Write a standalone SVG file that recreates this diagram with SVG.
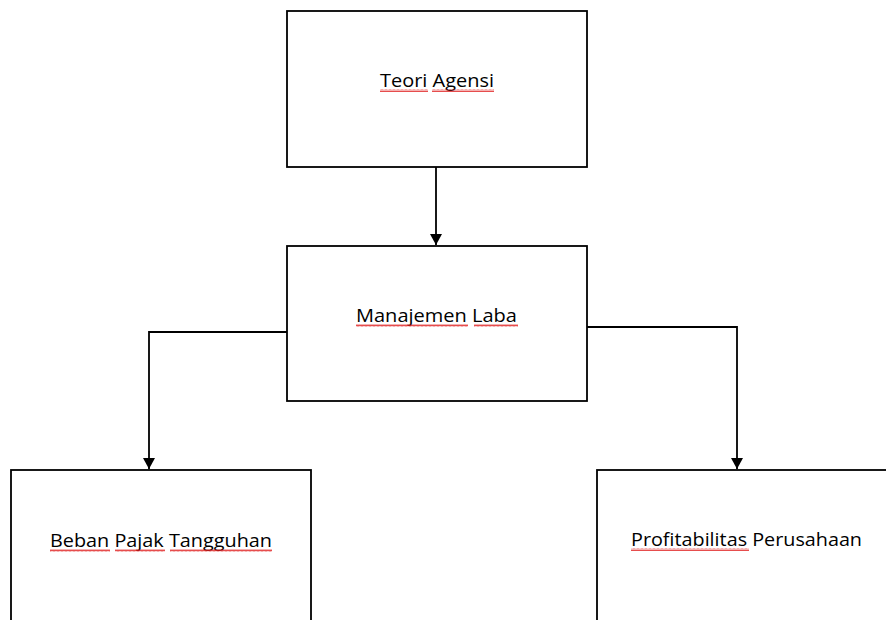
<svg xmlns="http://www.w3.org/2000/svg" width="886" height="620" viewBox="0 0 886 620">
<style>
.box{fill:#fff;stroke:#000;stroke-width:1.8}
.lbl{font-family:"Open Sans","Liberation Sans",sans-serif;font-size:18.5px;fill:#000}
.conn{fill:none;stroke:#000;stroke-width:1.8}
</style>
<defs>
<marker id="arr" markerWidth="12" markerHeight="12" refX="11" refY="6" orient="auto" markerUnits="userSpaceOnUse">
<path d="M0,0 L11,6 L0,12 Z" fill="#000"/>
</marker>
<pattern id="sq" width="4" height="3" patternUnits="userSpaceOnUse">
<path d="M0,2.5 L1,0.5 L2,2.5 L3,0.5 L4,2.5" fill="none" stroke="#e02020" stroke-width="0.8"/>
</pattern>
</defs>
<rect width="886" height="620" fill="#fff"/>
<g id="connectors">
<path class="conn" d="M436,167 V245" marker-end="url(#arr)"/>
<path class="conn" d="M287,332 H149 V469" marker-end="url(#arr)"/>
<path class="conn" d="M587,327 H737 V469" marker-end="url(#arr)"/>
</g>
<g id="teori-agensi">
<rect class="box" x="287" y="11" width="300" height="156"/>
<text class="lbl" x="380" y="87" textLength="114" lengthAdjust="spacingAndGlyphs">Teori Agensi</text>
<rect x="380" y="89" width="48" height="3" fill="url(#sq)"/>
<rect x="432" y="89" width="62" height="3" fill="url(#sq)"/>
</g>
<g id="manajemen-laba">
<rect class="box" x="287" y="246" width="300" height="155"/>
<text class="lbl" x="356" y="322" textLength="161" lengthAdjust="spacingAndGlyphs">Manajemen Laba</text>
<rect x="356" y="324" width="112" height="3" fill="url(#sq)"/>
<rect x="474" y="324" width="44" height="3" fill="url(#sq)"/>
</g>
<g id="beban-pajak">
<rect class="box" x="11" y="470" width="300" height="160"/>
<text class="lbl" x="50" y="547" textLength="222" lengthAdjust="spacingAndGlyphs">Beban Pajak Tangguhan</text>
<rect x="50" y="549" width="60" height="3" fill="url(#sq)"/>
<rect x="115" y="549" width="50" height="3" fill="url(#sq)"/>
<rect x="170" y="549" width="102" height="3" fill="url(#sq)"/>
</g>
<g id="profitabilitas">
<rect class="box" x="597" y="470" width="300" height="160"/>
<text class="lbl" x="631" y="546" textLength="231" lengthAdjust="spacingAndGlyphs">Profitabilitas Perusahaan</text>
<rect x="631" y="548" width="118" height="3" fill="url(#sq)"/>
</g>
</svg>
